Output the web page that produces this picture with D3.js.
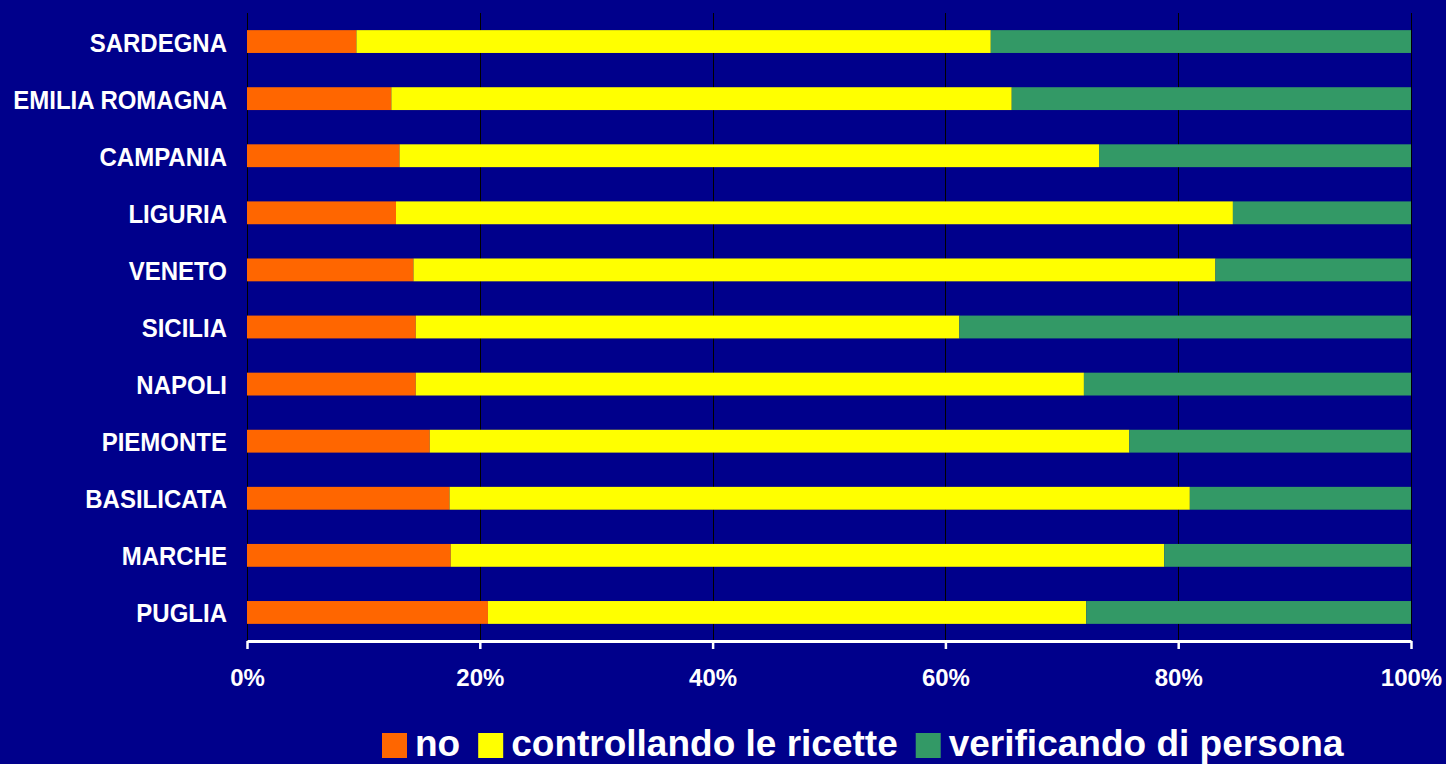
<!DOCTYPE html>
<html>
<head>
    <title>Stacked bars</title>
    <script src="https://d3js.org/d3.v7.min.js"></script>
    <style>
        * { margin: 0; padding: 0; }
        body { background-color: #00008B; }
        #chart text { font-family: "Liberation Sans", Arial, sans-serif; font-weight: bold; fill: #fff; }
    </style>
</head>
<body>
<div id="chart"></div>
<script>
    // data (percent of each region)
    const regions = ["SARDEGNA", "EMILIA ROMAGNA", "CAMPANIA", "LIGURIA", "VENETO", "SICILIA",
                     "NAPOLI", "PIEMONTE", "BASILICATA", "MARCHE", "PUGLIA"];
    const seriesNames = ["no", "controllando le ricette", "verificando di persona"];
    const seriesColors = ["#FF6600", "#FFFF00", "#339966"];
    const noValues = [9.4, 12.4, 13.1, 12.8, 14.3, 14.5, 14.5, 15.7, 17.4, 17.5, 20.7];
    const ricetteValues = [54.5, 53.3, 60.1, 71.9, 68.9, 46.7, 57.4, 60.1, 63.6, 61.3, 51.4];
    const personaValues = [36.1, 34.3, 26.8, 15.3, 16.8, 38.8, 28.1, 24.2, 19.0, 21.2, 27.9];
    const tickValues = [0, 20, 40, 60, 80, 100];

    const width = 1446, height = 764;
    const margin = {top: 13, right: 35, bottom: 123, left: 247};

    const rows = regions.map((r, i) => ({
        region: r,
        "no": noValues[i],
        "controllando le ricette": ricetteValues[i],
        "verificando di persona": personaValues[i]
    }));

    const stack = d3.stack().keys(seriesNames);
    const layers = stack(rows);

    const x = d3.scaleLinear()
        .domain([0, 100])
        .range([margin.left, width - margin.right]);

    const y = d3.scaleBand()
        .domain(regions)
        .range([margin.top, height - margin.bottom])
        .paddingInner(0.6)
        .paddingOuter(0.3);

    const color = d3.scaleOrdinal().domain(seriesNames).range(seriesColors);

    const svg = d3.select("#chart").append("svg")
        .attr("width", width)
        .attr("height", height);

    // vertical gridlines
    svg.append("g")
        .selectAll("line")
        .data(tickValues)
        .join("line")
        .attr("x1", d => Math.round(x(d)) + 0.5)
        .attr("x2", d => Math.round(x(d)) + 0.5)
        .attr("y1", margin.top)
        .attr("y2", height - margin.bottom)
        .attr("stroke", "#000")
        .attr("stroke-width", 1);

    // bars
    svg.append("g")
        .selectAll("g")
        .data(layers)
        .join("g")
        .attr("fill", d => color(d.key))
        .selectAll("rect")
        .data(d => d)
        .join("rect")
        .attr("x", d => x(d[0]))
        .attr("width", d => x(d[1]) - x(d[0]))
        .attr("y", d => y(d.data.region))
        .attr("height", y.bandwidth());

    // category labels (slightly taller than wide, like the original)
    svg.append("g")
        .selectAll("text")
        .data(regions)
        .join("text")
        .attr("transform", d => `translate(${margin.left - 20},${y(d) + y.bandwidth() / 2 + 10}) scale(1,1.1)`)
        .attr("text-anchor", "end")
        .style("font-size", "24px")
        .text(d => d);

    // x axis
    const axisY = height - margin.bottom;
    const xAxis = d3.axisBottom(x)
        .tickValues(tickValues)
        .tickFormat(d => d + "%")
        .tickSize(8)
        .tickSizeOuter(0)
        .tickPadding(20);

    const ax = svg.append("g")
        .attr("transform", `translate(0,${axisY})`)
        .call(xAxis);
    ax.select(".domain").attr("stroke", "#fff").attr("stroke-width", 3);
    ax.selectAll(".tick line").attr("stroke", "#fff").attr("stroke-width", 2.5);
    ax.selectAll(".tick text")
        .attr("fill", "#fff")
        .style("font-size", "24px")
        .style("font-family", "Liberation Sans, Arial, sans-serif")
        .style("font-weight", "bold");

    // legend
    const legend = svg.append("g").attr("transform", "translate(382,733)");
    let lx = 0;
    seriesNames.forEach((name, i) => {
        legend.append("rect")
            .attr("x", lx)
            .attr("y", 0)
            .attr("width", 25)
            .attr("height", 25)
            .attr("fill", seriesColors[i]);
        const t = legend.append("text")
            .attr("x", lx + 33)
            .attr("y", 23)
            .style("font-size", "37px")
            .text(name);
        lx += 33 + t.node().getComputedTextLength() + 18;
    });
</script>
</body>
</html>
